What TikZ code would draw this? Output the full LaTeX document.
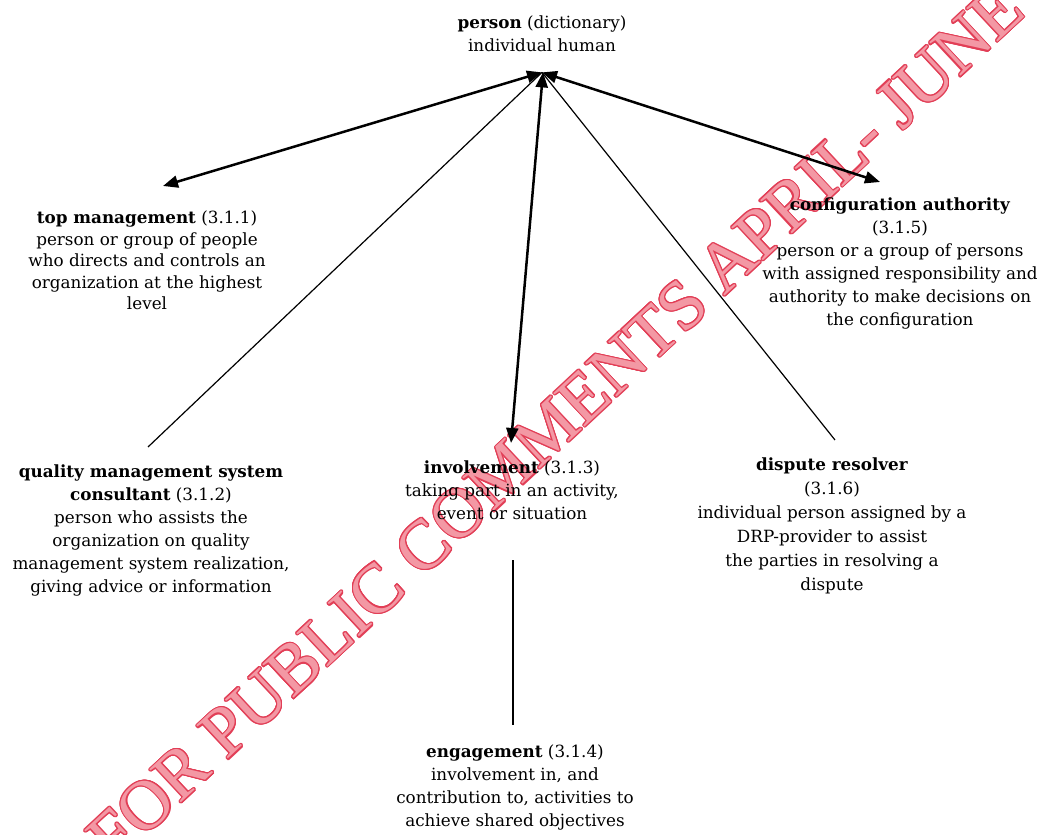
\documentclass[tikz,border=0pt]{standalone}
\usepackage{fontspec}
\setmainfont{DejaVu Serif}
\newfontfamily\wmfont{Liberation Serif}
\usepackage[copies]{contour}
\usetikzlibrary{arrows.meta,calc}
\definecolor{wmred}{RGB}{226,62,86}
\definecolor{wmpink}{RGB}{243,152,164}
\contourlength{1.1pt}
\begin{document}
\begin{tikzpicture}[x=1pt,y=1pt,
  term/.style={align=center, inner sep=0pt, anchor=north, text=black,
               font=\fontsize{16.8}{23}\selectfont},
  dbl/.style={line width=2.5pt, {Triangle[length=15pt,width=12pt]}-{Triangle[length=15pt,width=12pt]}},
  thinline/.style={line width=1.2pt},
  wm/.style={rotate=43, anchor=base, inner sep=0pt, text=wmpink,
             font=\wmfont\fontsize{70}{70}\selectfont}]
\fill[white] (0,0) rectangle (1042,835);
\useasboundingbox (0,0) rectangle (1042,835);

% watermark
\node[wm] (stamp) at (571,395) {\contour{wmred}{FOR PUBLIC COMMENTS APRIL- JUNE}};

% terms
\node[term] (person) at (542,819) {\textbf{person} (dictionary)\\individual human};
\node[term, font=\fontsize{16.8}{21.5}\selectfont] (tm) at (147,624)
  {\textbf{top management} (3.1.1)\\person or group of people\\who directs and controls an\\organization at the highest\\level};
\node[term] (ca) at (900,637)
  {\textbf{configuration authority}\\(3.1.5)\\person or a group of persons\\with assigned responsibility and\\authority to make decisions on\\the configuration};
\node[term] (qms) at (151,370)
  {\textbf{quality management system}\\\textbf{consultant} (3.1.2)\\person who assists the\\organization on quality\\management system realization,\\giving advice or information};
\node[term] (inv) at (512,374)
  {\textbf{involvement} (3.1.3)\\taking part in an activity,\\event or situation};
\node[term, font=\fontsize{16.8}{24}\selectfont] (dr) at (832,377)
  {\textbf{dispute resolver}\\(3.1.6)\\individual person assigned by a\\DRP-provider to assist\\the parties in resolving a\\dispute};
\node[term] (en) at (515,90)
  {\textbf{engagement} (3.1.4)\\involvement in, and\\contribution to, activities to\\achieve shared objectives};

\coordinate (hub) at ([yshift=-20pt]person.south);

% connectors
\draw[dbl] (hub) -- ([shift={(16pt,25pt)}]tm.north);
\draw[dbl] (hub) -- ([shift={(-20pt,16pt)}]ca.north);
\draw[dbl] ([xshift=1pt]hub) -- ([shift={(-1pt,18pt)}]inv.north);
\draw[thinline] (hub) -- ([shift={(-3pt,18pt)}]qms.north);
\draw[thinline] (hub) -- ([shift={(3pt,18pt)}]dr.north);
\draw[thinline] ([shift={(1pt,-40pt)}]inv.south) -- ([shift={(-2pt,20pt)}]en.north);
\end{tikzpicture}
\end{document}
